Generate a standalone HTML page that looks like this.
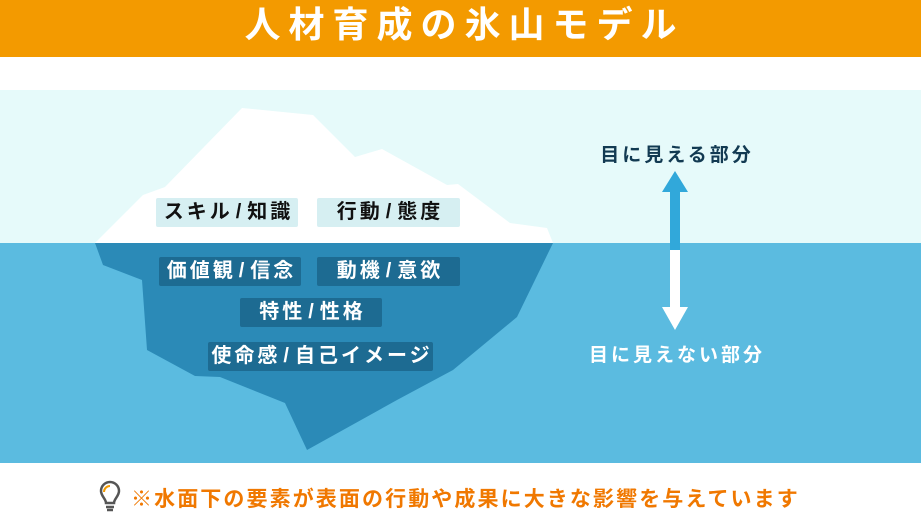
<!DOCTYPE html>
<html><head><meta charset="utf-8"><style>
html,body{margin:0;padding:0}
body{width:921px;height:518px;position:relative;overflow:hidden;background:#fff;font-family:"Liberation Sans","Noto Sans CJK JP",sans-serif;font-weight:bold}
.hdr{position:absolute;left:0;top:0;width:921px;height:57px;background:#f39a00;color:#fff;font-size:36px;text-align:center;line-height:50px;letter-spacing:8px;text-indent:8px}
.sky{position:absolute;left:0;top:90px;width:921px;height:153px;background:#e6fafa}
.sea{position:absolute;left:0;top:243px;width:921px;height:220px;background:#5bbbe0}
.lbl{position:absolute;height:29px;line-height:29px;text-align:center;font-size:20px;border-radius:2px;letter-spacing:3px;text-indent:3px}
.lbl span{margin:0 3px}
.up{background:#d6eff2;color:#111}
.dn{background:#1d6b92;color:#fff}
.t{position:absolute;font-size:19px;white-space:nowrap;transform:translateX(-50%);letter-spacing:3px}
.ft{position:absolute;left:131px;top:483px;font-size:21px;color:#f07800;white-space:nowrap;letter-spacing:2.1px}
</style></head><body>
<div class="hdr">人材育成の氷山モデル</div>
<div class="sky"></div>
<div class="sea"></div>
<svg style="position:absolute;left:0;top:0" width="921" height="518">
<polygon fill="#fff" points="95,243 143,195 165,187 242,108 313,115 355,157 382,149 447,185 458,184 510,223 547,228 553,243"/>
<polygon fill="#2b8ab7" points="95,243 103,265 142,280 147,350 195,376 220,377 285,403 307,450 397,400 453,370 517,317 553,243"/>
<polygon fill="#31a8da" points="670,250 670,192 662,192 675,171 688,192 680,192 680,250"/>
<polygon fill="#fff" points="670,250 670,307 662,307 675,330 688,307 680,307 680,250"/>
<g transform="translate(110,497)" fill="none" stroke="#555" stroke-width="2.5">
<path d="M-4,6 C-4,2 -9,-1 -9,-6 A9,9 0 1 1 9,-6 C9,-1 4,2 4,6 Z"/>
<line x1="-4" y1="10" x2="4" y2="10"/><line x1="-3" y1="13" x2="3" y2="13"/>
</g>
<path d="M104,-5 A6,6 0 0 1 110,-11" transform="translate(0,497)" stroke="#f39a00" stroke-width="2" fill="none"/>
</svg>
<div class="lbl up" style="left:156px;top:198px;width:142px">スキル<span>/</span>知識</div>
<div class="lbl up" style="left:317px;top:198px;width:143px">行動<span>/</span>態度</div>
<div class="lbl dn" style="left:159px;top:257px;width:142px">価値観<span>/</span>信念</div>
<div class="lbl dn" style="left:317px;top:257px;width:143px">動機<span>/</span>意欲</div>
<div class="lbl dn" style="left:240px;top:298px;width:142px">特性<span>/</span>性格</div>
<div class="lbl dn" style="left:208px;top:342px;width:225px">使命感<span>/</span>自己イメージ</div>
<div class="t" style="left:677px;top:140px;color:#123a52">目に見える部分</div>
<div class="t" style="left:677px;top:340px;color:#fff">目に見えない部分</div>
<div class="ft">※水面下の要素が表面の行動や成果に大きな影響を与えています</div>
</body></html>
